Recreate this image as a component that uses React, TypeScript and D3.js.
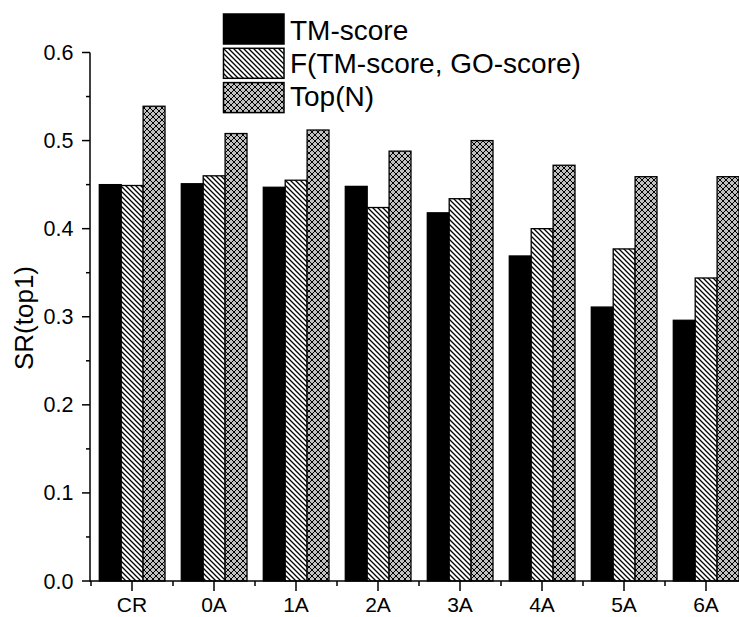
import React, { useEffect, useRef } from 'react';
import * as d3 from 'd3';

// grouped bar chart: SR(top1) per category, three scoring methods

const categories = ['CR', '0A', '1A', '2A', '3A', '4A', '5A', '6A'];
const seriesNames = ['TM-score', 'F(TM-score, GO-score)', 'Top(N)'];
const tmScore = [0.450, 0.451, 0.447, 0.448, 0.418, 0.369, 0.311, 0.296];
const fScore = [0.449, 0.460, 0.455, 0.424, 0.434, 0.400, 0.377, 0.344];
const topN = [0.539, 0.508, 0.512, 0.488, 0.500, 0.472, 0.459, 0.459];
const yTicks = [0, 0.1, 0.2, 0.3, 0.4, 0.5, 0.6];
const yMinorTicks = [0.05, 0.15, 0.25, 0.35, 0.45, 0.55];

const fills = ['#000', 'url(#hatch)', 'url(#cross)'];
const font = 'Arial, "Liberation Sans", sans-serif';

export default function App() {
  const ref = useRef<SVGSVGElement>(null);

  useEffect(() => {
    const values = [tmScore, fScore, topN];
    const svg = d3.select(ref.current);
    svg.selectAll('*').remove();

    const defs = svg.append('defs');
    const hatch = defs.append('pattern').attr('id', 'hatch')
      .attr('patternUnits', 'userSpaceOnUse').attr('width', 5).attr('height', 5);
    hatch.append('rect').attr('width', 5).attr('height', 5).attr('fill', '#fff');
    hatch.append('path').attr('d', 'M-1,-1L6,6M-1,4L1,6M4,-1L6,1')
      .attr('stroke', '#000').attr('stroke-width', 1.3);

    const cross = defs.append('pattern').attr('id', 'cross')
      .attr('patternUnits', 'userSpaceOnUse').attr('width', 6).attr('height', 6);
    cross.append('rect').attr('width', 6).attr('height', 6).attr('fill', '#c0c0c0');
    cross.append('path').attr('d', 'M-1,-1L7,7M7,-1L-1,7')
      .attr('stroke', '#000').attr('stroke-width', 1);

    const x0 = 91, step = 82;
    const x = d3.scaleBand().domain(categories).range([x0, x0 + step * categories.length]);
    const xs = d3.scaleBand().domain(seriesNames).range([8.3, 74]);
    const y = d3.scaleLinear().domain([0, 0.6]).range([581, 52.5]);

    // bars
    seriesNames.forEach((s, si) => {
      svg.append('g').selectAll('rect')
        .data(categories)
        .join('rect')
        .attr('x', (c) => (x(c) as number) + (xs(s) as number))
        .attr('y', (c, i) => y(values[si][i]))
        .attr('width', xs.bandwidth())
        .attr('height', (c, i) => y(0) - y(values[si][i]))
        .attr('fill', fills[si])
        .attr('stroke', '#000')
        .attr('stroke-width', 1.3);
    });

    // y axis
    const ya = svg.append('g').attr('stroke', '#000').attr('stroke-width', 1.5);
    ya.append('line').attr('x1', 90).attr('x2', 90).attr('y1', y(0.6)).attr('y2', y(0) + 0.75);
    ya.selectAll('.maj').data(yTicks).join('line').attr('class', 'maj')
      .attr('x1', 82).attr('x2', 90).attr('y1', (d) => y(d)).attr('y2', (d) => y(d));
    ya.selectAll('.min').data(yMinorTicks).join('line').attr('class', 'min')
      .attr('x1', 86).attr('x2', 90).attr('y1', (d) => y(d)).attr('y2', (d) => y(d));
    svg.append('g').selectAll('text').data(yTicks).join('text')
      .attr('x', 73.5).attr('y', (d) => y(d) + 7.5)
      .attr('text-anchor', 'end')
      .attr('font-family', font).attr('font-size', 21.5)
      .text((d) => d3.format('.1f')(d));

    // x axis
    const xa = svg.append('g').attr('stroke', '#000').attr('stroke-width', 1.5);
    xa.append('line').attr('x1', 90).attr('x2', 739).attr('y1', 581).attr('y2', 581);
    xa.selectAll('.maj').data(categories).join('line').attr('class', 'maj')
      .attr('x1', (c) => (x(c) as number) + step / 2).attr('x2', (c) => (x(c) as number) + step / 2)
      .attr('y1', 581).attr('y2', 591);
    xa.selectAll('.min').data(categories).join('line').attr('class', 'min')
      .attr('x1', (c) => x(c) as number).attr('x2', (c) => x(c) as number)
      .attr('y1', 581).attr('y2', 586);
    svg.append('g').selectAll('text').data(categories).join('text')
      .attr('x', (c) => (x(c) as number) + step / 2).attr('y', 612)
      .attr('text-anchor', 'middle')
      .attr('font-family', font).attr('font-size', 21)
      .text((c) => c);

    // y label
    svg.append('text')
      .attr('transform', 'translate(33, 318) rotate(-90)')
      .attr('text-anchor', 'middle')
      .attr('font-family', font).attr('font-size', 26)
      .text('SR(top1)');

    // legend
    const lg = svg.append('g');
    seriesNames.forEach((s, i) => {
      lg.append('rect')
        .attr('x', 223.5).attr('y', 14 + i * 34.3)
        .attr('width', 60.5).attr('height', 30)
        .attr('fill', fills[i]).attr('stroke', '#000').attr('stroke-width', 1.5);
      lg.append('text')
        .attr('x', 290).attr('y', 39.5 + i * 33.2)
        .attr('font-family', font).attr('font-size', 28)
        .text(s);
    });
  }, []);

  return (
    <svg ref={ref} width={739} height={617}
      style={{ position: 'absolute', left: 0, top: 0, background: '#fff' }} />
  );
}
